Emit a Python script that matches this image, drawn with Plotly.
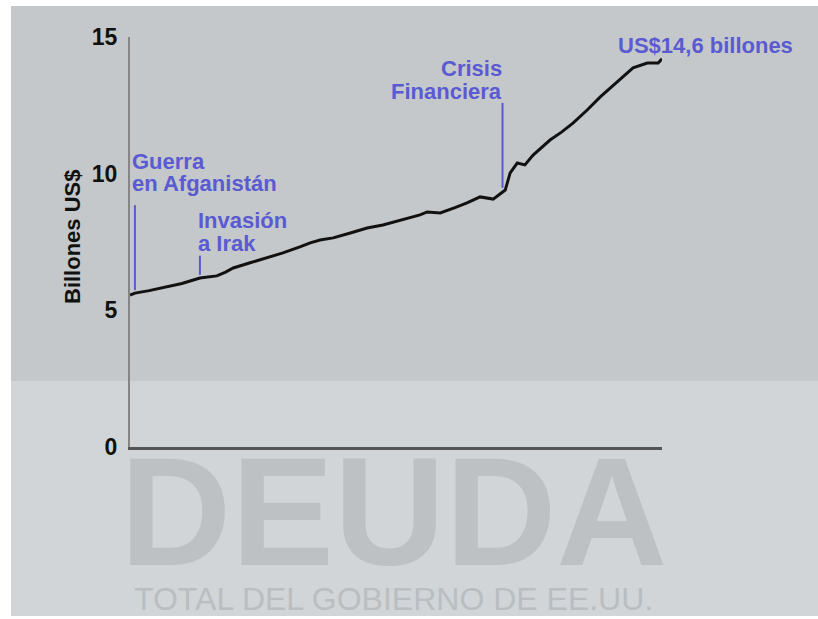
import plotly.graph_objects as go

# Debt series (approximate): year fraction, trillions US$
years = [2001.75, 2001.84, 2002.10, 2002.43, 2002.70, 2003.03, 2003.20, 2003.34, 2003.50,
         2003.64, 2003.95, 2004.26, 2004.55, 2004.86, 2005.05, 2005.23, 2005.47, 2005.80,
         2006.09, 2006.38, 2006.70, 2007.06, 2007.19, 2007.43, 2007.70, 2007.92, 2008.16,
         2008.40, 2008.62, 2008.71, 2008.84, 2008.98, 2009.13, 2009.44, 2009.65, 2009.86,
         2010.12, 2010.36, 2010.67, 2010.96, 2011.22, 2011.42, 2011.49]
debt = [5.56, 5.63, 5.72, 5.85, 5.98, 6.18, 6.22, 6.26, 6.40,
        6.55, 6.74, 6.92, 7.10, 7.32, 7.47, 7.57, 7.65, 7.84,
        8.01, 8.12, 8.30, 8.49, 8.60, 8.56, 8.76, 8.93, 9.15,
        9.07, 9.40, 10.03, 10.39, 10.32, 10.68, 11.23, 11.52, 11.85,
        12.33, 12.81, 13.36, 13.87, 14.05, 14.05, 14.20]

# Event markers: year, bottom value, top value
event_years = [2001.84, 2003.03, 2008.57]
event_low = [5.74, 6.30, 9.48]
event_high = [8.85, 7.00, 12.59]

y_ticks = [0, 5, 10, 15]
y_title = "Billones US$"

BLUE = "#5a5ad2"
FONT = "Liberation Sans, Arial, sans-serif"

W, H = 818, 619
L, R, T, B = 130, 156, 37, 172
PW, PH = W - L - R, H - T - B


def px(x):
    return (x - L) / PW


def py(y):
    return (H - B - y) / PH


fig = go.Figure()

# event lines
for ex, lo, hi in zip(event_years, event_low, event_high):
    fig.add_trace(go.Scatter(x=[ex, ex], y=[lo, hi], mode="lines",
                             line=dict(color=BLUE, width=2), hoverinfo="skip"))

fig.add_trace(go.Scatter(x=years, y=debt, mode="lines",
                         line=dict(color="#111111", width=3), hoverinfo="skip"))

shapes = [
    dict(type="rect", xref="paper", yref="paper", x0=px(11), x1=px(818), y0=py(381), y1=py(6),
         fillcolor="#c4c8ca", line=dict(width=0), layer="below"),
    dict(type="rect", xref="paper", yref="paper", x0=px(11), x1=px(818), y0=py(616), y1=py(381),
         fillcolor="#d1d5d8", line=dict(width=0), layer="below"),
]

annotations = []


def txt(text, x, y, xanchor="left", size=22, color=BLUE, weight="bold"):
    annotations.append(dict(text=text, xref="paper", yref="paper", x=px(x), y=py(y),
                            xanchor=xanchor, yanchor="middle", showarrow=False,
                            font=dict(family=FONT, size=size, color=color, weight=weight)))


txt("Guerra", 130, 161)
txt("en Afganistán", 130, 183)
txt("Invasión", 196, 221)
txt("a Irak", 196, 243)
txt("Crisis", 504, 69, xanchor="right")
txt("Financiera", 504, 91, xanchor="right")
txt("US$14,6 billones", 616, 45)
txt("DEUDA", 394, 512, xanchor="center", size=154, color="#bdc1c4")
txt("TOTAL DEL GOBIERNO DE EE.UU.", 393, 599, xanchor="center", size=32,
    color="#babec1", weight="normal")

annotations.append(dict(text=y_title, xref="paper", yref="paper", x=px(72), y=py(237),
                        xanchor="center", yanchor="middle", textangle=-90, showarrow=False,
                        font=dict(family=FONT, size=22, color="#111111", weight="bold")))

fig.update_layout(
    width=W, height=H,
    margin=dict(l=L, r=R, t=T, b=B, pad=0),
    paper_bgcolor="white", plot_bgcolor="rgba(0,0,0,0)",
    showlegend=False,
    shapes=shapes, annotations=annotations,
    xaxis=dict(range=[years[0], years[-1]], showgrid=False, zeroline=False,
               showticklabels=False, ticks="", showline=True, linecolor="#555555",
               linewidth=3),
    yaxis=dict(range=[0, 15], tickvals=y_ticks, showgrid=False, zeroline=False,
               ticks="outside", ticklen=6, tickcolor="rgba(0,0,0,0)",
               showline=True, linecolor="#858585", linewidth=2,
               tickfont=dict(family=FONT, size=23, color="#111111", weight="bold")),
)

fig.write_html("out.html", config={"displayModeBar": False},
               post_script="document.body.style.margin='0';")
